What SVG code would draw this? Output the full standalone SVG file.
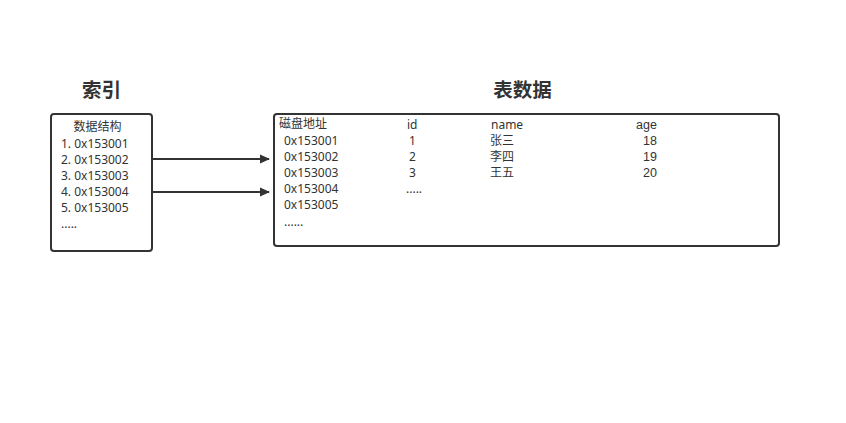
<svg xmlns="http://www.w3.org/2000/svg" width="846" height="423" viewBox="0 0 846 423">
<defs>
<style>
.t{font-family:"Noto Sans","Noto Sans CJK SC",sans-serif;font-size:12px;fill:#333}
.a{font-family:"Liberation Sans","Noto Sans CJK SC",sans-serif;font-size:12.5px;fill:#333}
.h{font-family:"Noto Sans CJK SC",sans-serif;font-size:19.5px;font-weight:bold;fill:#333;text-anchor:middle}
.box{fill:#fff;stroke:#333;stroke-width:2}
.c{stroke:#333;stroke-width:2;fill:none}
</style>
<marker id="arr" markerWidth="10" markerHeight="10" refX="9" refY="5" orient="auto" markerUnits="userSpaceOnUse">
<path d="M0,0.5 L10,5 L0,9.5 Z" fill="#333"/>
</marker>
</defs>
<rect width="846" height="423" fill="#fff"/>
<g id="title-index"><text class="h" x="101.5" y="97">索引</text></g>
<g id="title-table"><text class="h" x="522.5" y="97">表数据</text></g>
<g id="index">
<rect class="box" x="51" y="114" width="101" height="137" rx="3"/>
<text class="t" x="97.5" y="131" text-anchor="middle">数据结构</text>
<text class="t" x="61" y="148">1. 0x153001</text>
<text class="t" x="61" y="164">2. 0x153002</text>
<text class="t" x="61" y="180">3. 0x153003</text>
<text class="t" x="61" y="196">4. 0x153004</text>
<text class="t" x="61" y="212">5. 0x153005</text>
<text class="t" x="61" y="228">.....</text>
</g>
<g id="table">
<rect class="box" x="274" y="114" width="505" height="132" rx="3"/>
<text class="t" x="279" y="128">磁盘地址</text>
<text class="t" x="284" y="145">0x153001</text>
<text class="t" x="284" y="161">0x153002</text>
<text class="t" x="284" y="177">0x153003</text>
<text class="t" x="284" y="193">0x153004</text>
<text class="t" x="284" y="209">0x153005</text>
<text class="t" x="284" y="226">......</text>
<text class="t" x="407" y="129">id</text>
<text class="t" x="409" y="145">1</text>
<text class="t" x="409" y="161">2</text>
<text class="t" x="409" y="177">3</text>
<text class="t" x="406" y="193">.....</text>
<text class="t" x="491" y="129">name</text>
<text class="t" x="490" y="145">张三</text>
<text class="t" x="490" y="161">李四</text>
<text class="t" x="490" y="177">王五</text>
<text class="a" x="636" y="129">age</text>
<text class="a" x="643" y="145">18</text>
<text class="a" x="643" y="161">19</text>
<text class="a" x="643" y="177">20</text>
</g>
<g id="connectors">
<line class="c" x1="153" y1="159" x2="269" y2="159" marker-end="url(#arr)"/>
<line class="c" x1="153" y1="192" x2="269" y2="192" marker-end="url(#arr)"/>
</g>
</svg>
